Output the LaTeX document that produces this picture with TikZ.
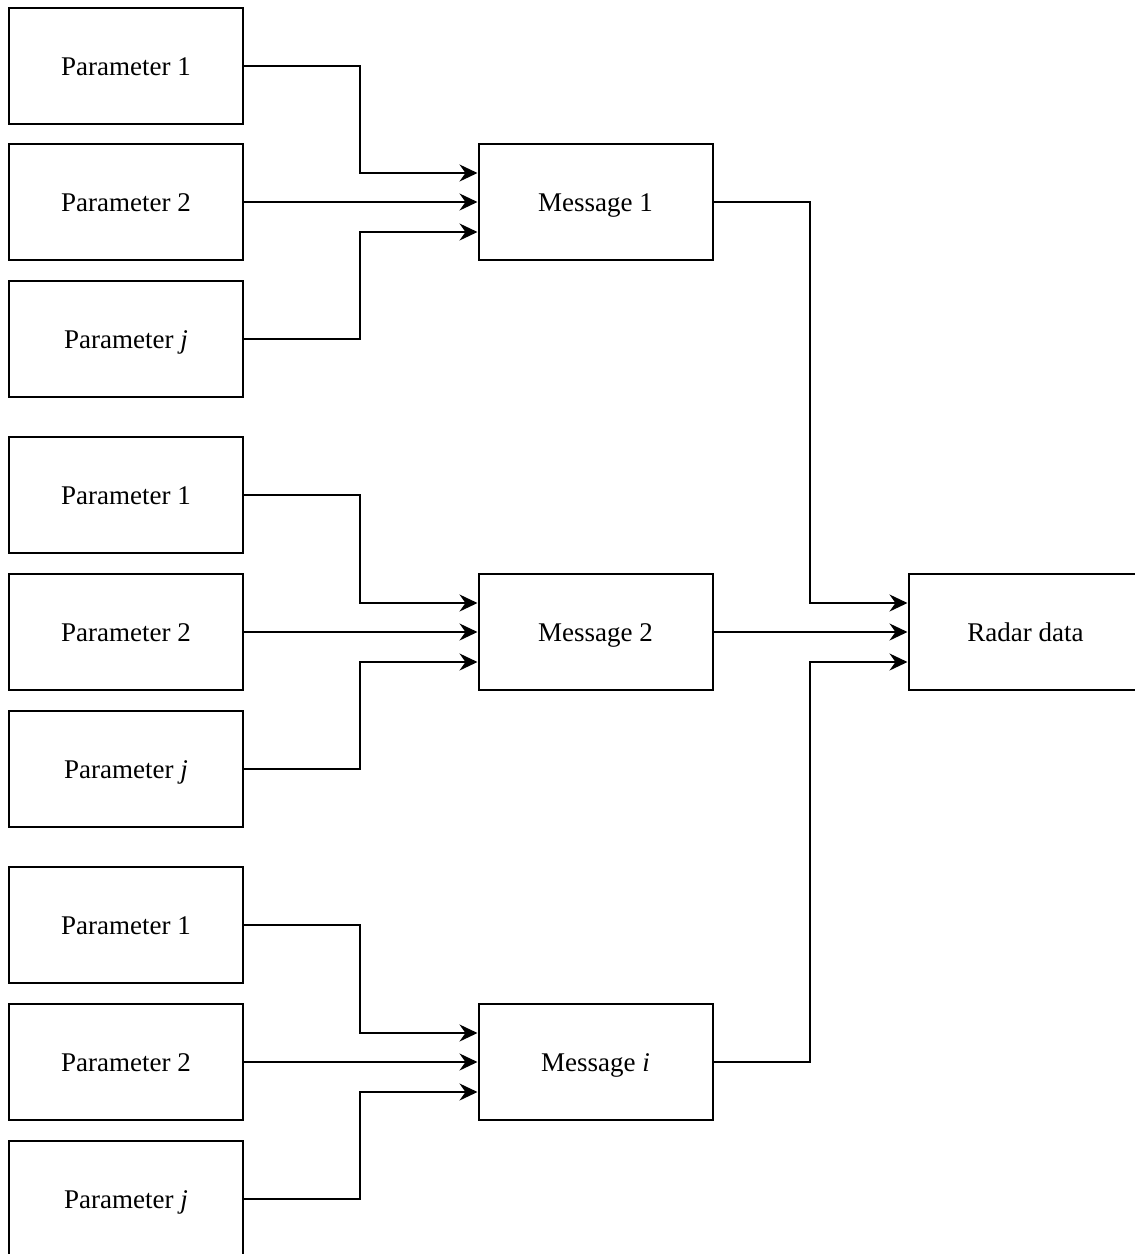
\documentclass[tikz,border=0pt]{standalone}
\usepackage{fontspec}
\setmainfont{Liberation Serif}
\usetikzlibrary{arrows.meta}
\begin{document}
\begin{tikzpicture}[x=1pt,y=-1pt,
  box/.style={draw,line width=2pt,minimum width=234pt,minimum height=116pt,inner sep=0pt,text height=24pt,text depth=6pt,font=\fontsize{27}{32}\selectfont},
  arr/.style={line width=2pt,-{Stealth[length=18pt,width=17pt,inset=6pt]}}]
\useasboundingbox (0,0) rectangle (1135,1254);
\node[box] (p11) at (126,66) {Parameter 1};
\node[box] (p12) at (126,202) {Parameter 2};
\node[box] (p1j) at (126,339) {Parameter \textit{j}};
\node[box] (p21) at (126,495) {Parameter 1};
\node[box] (p22) at (126,632) {Parameter 2};
\node[box] (p2j) at (126,769) {Parameter \textit{j}};
\node[box] (p31) at (126,925) {Parameter 1};
\node[box] (p32) at (126,1062) {Parameter 2};
\node[box] (p3j) at (126,1199) {Parameter \textit{j}};
\node[box] (m1) at (595.5,202) {Message 1};
\node[box] (m2) at (595.5,632) {Message 2};
\node[box] (mi) at (595.5,1062) {Message \textit{i}};
\node[box] (rd) at (1025.5,632) {Radar data};
\coordinate (jx) at (360,0);
\coordinate (kx) at (810,0);
\foreach \g/\m in {1/m1,2/m2,3/mi}{
  \draw[arr] (p\g1.east) -- (p\g1.east -| jx) |- ([yshift=29pt]\m.west);
  \draw[arr] (p\g2.east) -- (\m.west);
  \draw[arr] (p\g j.east) -- (p\g j.east -| jx) |- ([yshift=-30pt]\m.west);
}
\draw[arr] (m1.east) -- (m1.east -| kx) |- ([yshift=29pt]rd.west);
\draw[arr] (m2.east) -- (rd.west);
\draw[arr] (mi.east) -- (mi.east -| kx) |- ([yshift=-30pt]rd.west);
\end{tikzpicture}
\end{document}
